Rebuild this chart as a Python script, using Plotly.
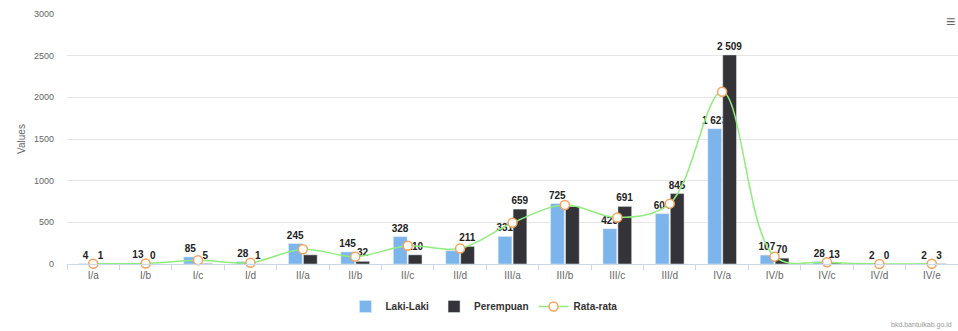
import plotly.graph_objects as go

categories = ["I/a", "I/b", "I/c", "I/d", "II/a", "II/b", "II/c", "II/d",
              "III/a", "III/b", "III/c", "III/d", "IV/a", "IV/b", "IV/c", "IV/d", "IV/e"]
laki = [4, 13, 85, 28, 245, 145, 328, 160, 331, 725, 423, 604, 1623, 107, 28, 2, 2]
perempuan = [1, 0, 5, 1, 110, 32, 110, 211, 659, 690, 691, 845, 2509, 70, 13, 0, 3]
rata = [2.5, 6.5, 45, 14.5, 177.5, 88.5, 219, 185.5, 495, 707.5, 557, 724.5, 2066, 88.5, 20.5, 1, 2.5]
hidden_laki = {7}
hidden_perempuan = {4, 9}


def fmt(v):
    return f"{v:,}".replace(",", " ")


laki_text = ["" if i in hidden_laki else fmt(v) for i, v in enumerate(laki)]
per_text = ["" if i in hidden_perempuan else fmt(v) for i, v in enumerate(perempuan)]

label_font = dict(family="Liberation Sans, Arial", size=10, color="#222", weight="bold")

fig = go.Figure()
fig.add_trace(go.Bar(x=categories, y=laki, name="Laki-Laki", marker_color="#7cb5ec",
                     text=laki_text, textposition="outside", textfont=label_font,
                     constraintext="none", cliponaxis=False))
fig.add_trace(go.Bar(x=categories, y=perempuan, name="Perempuan", marker_color="#333338",
                     text=per_text, textposition="outside", textfont=label_font,
                     constraintext="none", cliponaxis=False))
fig.add_trace(go.Scatter(x=categories, y=rata, name="Rata-rata", mode="lines+markers",
                         line=dict(color="#90ed7d", width=1.5, shape="spline"),
                         marker=dict(symbol="circle", size=9, color="white",
                                     line=dict(color="#f7a35c", width=1.5)),
                         cliponaxis=False))

fig.update_layout(
    width=958, height=331,
    margin=dict(l=67, r=0, t=14, b=67),
    paper_bgcolor="white", plot_bgcolor="white",
    barmode="group", bargap=0.43, bargroupgap=0.08,
    font=dict(family="Liberation Sans, Arial", size=10, color="#666"),
    showlegend=True,
    legend=dict(orientation="h", x=0.468, xanchor="center", y=-0.17, yanchor="middle",
                font=dict(size=10, color="#333", weight="bold"), traceorder="normal",
                itemwidth=30, tracegroupgap=0),
    xaxis=dict(showgrid=False, showline=True, linecolor="#ccd6eb", range=[-0.5, 16.5],
               ticks="outside", tickson="boundaries", ticklen=5, tickcolor="#ccd6eb",
               tickfont=dict(size=10, color="#666"), ticklabelstandoff=2, automargin=False),
    yaxis=dict(range=[0, 3000], dtick=500, showgrid=True, gridcolor="#e6e6e6",
               zeroline=False, tickfont=dict(size=9, color="#666"), automargin=False,
               ticklabelstandoff=12,
               title=dict(text="Values", font=dict(size=10, color="#666"), standoff=6)),
)

fig.add_annotation(text="≡", x=0.992, y=0.97, xref="paper", yref="paper", xanchor="center",
                   yanchor="middle", showarrow=False, font=dict(size=16, color="#666"))
fig.add_annotation(text="bkd.bantulkab.go.id", x=0.995, y=-0.244, xref="paper", yref="paper",
                   xanchor="right", yanchor="middle", showarrow=False,
                   font=dict(size=7, color="#999"))

fig.write_html("out.html")
